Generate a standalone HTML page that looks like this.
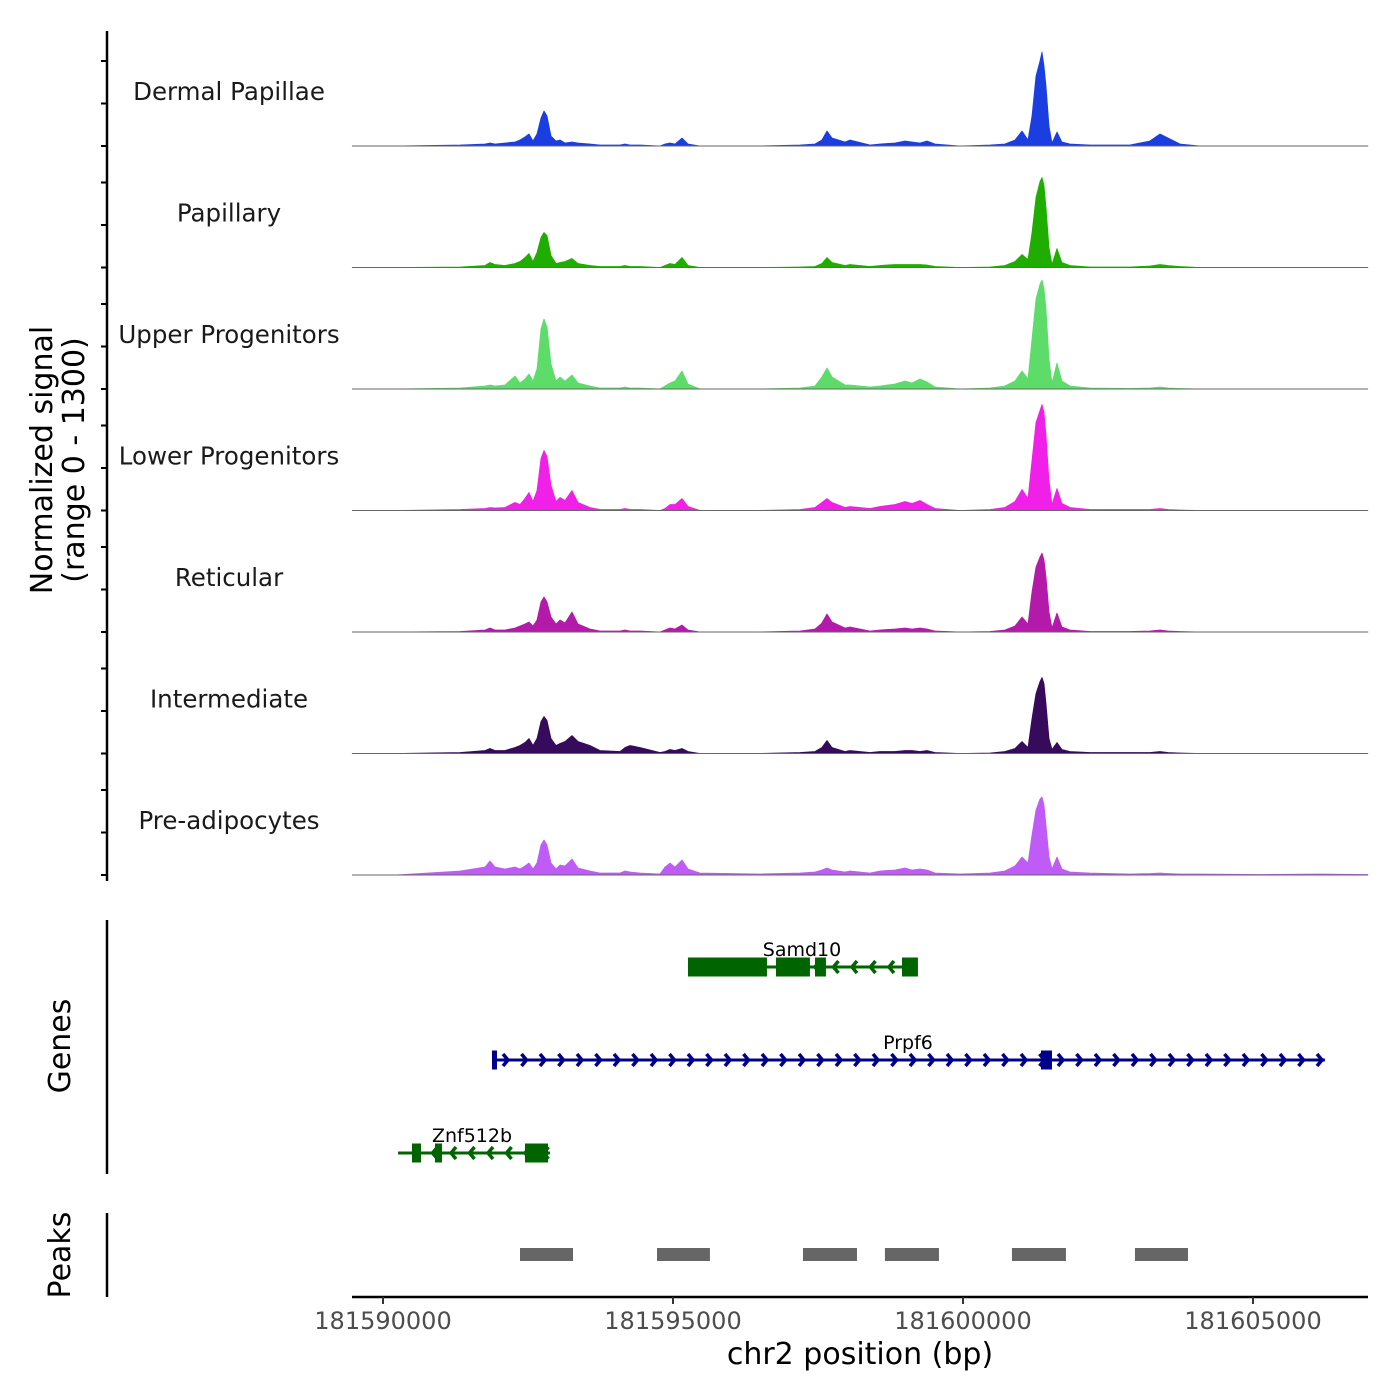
<!DOCTYPE html>
<html><head><meta charset="utf-8">
<style>
html,body{margin:0;padding:0;background:#fff;}
svg{display:block;font-family:"DejaVu Sans","Liberation Sans",sans-serif;}
</style></head>
<body>
<svg id="chart" width="1400" height="1400" viewBox="0 0 1400 1400" xmlns="http://www.w3.org/2000/svg">
<rect width="1400" height="1400" fill="#fff"/>
<g id="tracks"></g>
<g id="genes"></g>
<g id="peaks"></g>
<g id="axes"></g>
<text transform="translate(52,460) rotate(-90)" text-anchor="middle" font-size="30" fill="#000">Normalized signal</text>
<text transform="translate(84,460) rotate(-90)" text-anchor="middle" font-size="30" fill="#000">(range 0 - 1300)</text>
<text transform="translate(70,1046) rotate(-90)" text-anchor="middle" font-size="30" fill="#000">Genes</text>
<text transform="translate(70,1255) rotate(-90)" text-anchor="middle" font-size="30" fill="#000">Peaks</text>
<text x="860" y="1364" text-anchor="middle" font-size="30" fill="#000">chr2 position (bp)</text>
</svg>
<script>
const positions=[181589470,181590210,181591330,181591760,181591845,181591931,181592103,181592276,181592362,181592448,181592517,181592586,181592655,181592724,181592776,181592827,181592896,181592983,181593051,181593138,181593258,181593362,181593569,181593741,181594086,181594172,181594258,181594431,181594776,181594862,181594948,181595034,181595155,181595258,181595465,181596499,181597189,181597448,181597568,181597655,181597741,181597965,181598051,181598396,181598568,181598827,181599000,181599121,181599259,181599379,181599517,181599948,181600465,181600723,181600896,181601017,181601120,181601189,181601258,181601327,181601362,181601396,181601431,181601482,181601534,181601620,181601706,181601844,181602189,181602878,181603223,181603396,181603534,181603741,181604085,181605120,181606154,181606981];
const trackNames=["Dermal Papillae","Papillary","Upper Progenitors","Lower Progenitors","Reticular","Intermediate","Pre-adipocytes"];
const trackColors=["#1a3ee0","#1fae00","#5ddc6a","#f020e8","#b41aaa","#370b5b","#bf5cf5"];
const dermalPapillae=[0,0,10,20,30,20,30,40,60,90,120,50,120,280,350,300,100,50,60,30,40,30,20,10,10,20,10,10,0,20,30,20,80,20,0,0,10,20,60,150,80,40,60,10,20,30,50,40,30,50,20,0,10,20,60,150,60,300,700,850,940,800,600,200,30,140,40,20,10,10,50,120,80,20,0,0,0,0];
const papillary=[0,0,5,20,50,30,20,40,60,100,140,60,150,300,350,320,120,40,50,60,90,40,20,10,10,20,10,10,0,20,40,30,100,20,0,0,5,10,40,100,50,20,30,10,20,30,30,30,30,25,10,0,5,20,60,130,80,350,700,860,900,820,600,200,30,190,50,20,5,5,15,30,20,10,0,0,0,0];
const upperProgenitors=[0,0,10,30,40,30,40,130,60,100,150,80,200,600,700,620,250,80,120,80,140,60,30,10,10,20,10,10,0,30,60,80,180,50,0,0,10,30,120,210,120,40,40,20,30,50,80,60,100,70,20,0,10,30,80,180,100,500,900,1050,1090,1000,800,300,60,260,80,30,10,5,10,20,10,5,0,0,0,0];
const lowerProgenitors=[0,0,10,20,30,25,30,80,60,120,180,90,200,520,600,540,250,90,130,100,200,80,30,10,10,20,10,10,0,20,60,60,120,40,0,0,10,30,80,120,80,30,40,20,40,60,90,70,100,60,20,0,10,30,90,210,120,500,880,1000,1060,980,750,300,60,220,70,30,10,10,10,20,10,5,0,0,0,0];
const reticular=[0,0,5,20,40,20,20,40,60,80,100,60,120,300,350,300,150,80,120,90,200,80,30,10,10,20,10,10,0,20,40,30,70,20,0,0,10,30,90,180,100,40,50,10,20,30,40,30,40,30,10,0,5,20,60,150,80,400,650,750,790,720,550,200,40,190,50,20,5,5,10,20,10,5,0,0,0,0];
const intermediate=[0,0,10,30,50,30,30,60,80,110,150,80,150,320,370,330,150,80,100,120,180,120,80,30,20,60,80,60,10,20,40,30,50,20,0,0,10,20,60,130,60,20,30,10,20,20,30,30,20,30,10,0,5,20,50,120,60,350,600,720,760,700,500,150,40,110,40,20,10,10,10,20,10,5,0,0,0,0];
const preAdipocytes=[0,0,40,80,140,80,60,80,60,90,120,60,120,300,350,300,120,60,100,90,160,70,40,20,20,40,30,20,10,80,120,80,150,60,20,10,20,30,50,70,50,30,40,20,40,50,70,50,60,50,20,10,20,40,90,180,120,400,650,760,780,700,500,180,60,180,60,30,20,10,15,20,15,10,10,5,10,5];
const xTicks=[181590000,181595000,181600000,181605000];
const geneNames=["Samd10","Prpf6","Znf512b"];
const geneStarts=[181595258,181591879,181590259];
const geneEnds=[181599223,181606240,181592879];
const geneStrands=[-1,1,-1];
const geneColors=["#006400","#00008b","#006400"];
const geneExons=[[[181595258,181596620],[181596775,181597361],[181597448,181597637],[181598948,181599223]],[[181591879,181591965],[181601344,181601534]],[[181590500,181590655],[181590896,181591017],[181592448,181592845]]];
const peakStarts=[181592362,181594724,181597241,181598654,181600844,181602965];
const peakEnds=[181593276,181595637,181598172,181599585,181601775,181603879];

const NS="http://www.w3.org/2000/svg";
function mk(tag,attrs,parent){const e=document.createElementNS(NS,tag);for(const k in attrs)e.setAttribute(k,attrs[k]);parent.appendChild(e);return e;}
const X0=352,X1=1368;
function xs(bp){return 383+(bp-181590000)*(870/15000);}
const yMax=1300, trackScale=130;
function ys(v,base){return base - v/yMax*trackScale;}
const series=[dermalPapillae,papillary,upperProgenitors,lowerProgenitors,reticular,intermediate,preAdipocytes];
const tracksG=document.getElementById('tracks');
const axesG=document.getElementById('axes');
series.forEach((vals,i)=>{
  const base=146+i*121.5;
  let d="M"+xs(positions[0])+","+base;
  vals.forEach((v,j)=>{d+=" L"+xs(positions[j]).toFixed(1)+","+ys(v,base).toFixed(1);});
  d+=" L"+xs(positions[positions.length-1])+","+base+" Z";
  const p=mk('path',{d:d,fill:trackColors[i],stroke:trackColors[i],'stroke-width':0.8,'stroke-linejoin':'round'},tracksG);
  
  
  const bl=mk('line',{x1:X0,x2:X1,y1:base,y2:base,stroke:'#666','stroke-width':1},tracksG);
  
  
  const t=mk('text',{x:229,y:base-46,'text-anchor':'middle','font-size':24.5,fill:'#1a1a1a'},tracksG);
  t.textContent=trackNames[i];
  
  
  [0,42.5,85].forEach(o=>{
    const tk=mk('line',{x1:101,x2:107,y1:base-o,y2:base-o,stroke:'#000','stroke-width':2},axesG);
    
    
  });
});
const a1=mk('line',{x1:107,x2:107,y1:31,y2:881,stroke:'#000','stroke-width':2.5},axesG);


const a2=mk('line',{x1:107,x2:107,y1:920,y2:1174,stroke:'#000','stroke-width':2.5},axesG);


const a3=mk('line',{x1:107,x2:107,y1:1213,y2:1297,stroke:'#000','stroke-width':2.5},axesG);


const xa=mk('line',{x1:X0,x2:X1,y1:1297,y2:1297,stroke:'#000','stroke-width':2.5},axesG);


xTicks.forEach(b=>{
  const tk=mk('line',{x1:xs(b),x2:xs(b),y1:1297,y2:1304,stroke:'#333','stroke-width':2},axesG);
  
  
  const tl=mk('text',{x:xs(b),y:1329,'text-anchor':'middle','font-size':24,fill:'#4d4d4d'},axesG);
  tl.textContent=String(b);
  
  
});
const genesG=document.getElementById('genes');
const geneY=[967,1060,1153];
geneNames.forEach((n,i)=>{
  const y=geneY[i],c=geneColors[i];
  const g=mk('g',{},genesG);
  
  
  const x1=xs(geneStarts[i]),x2=xs(geneEnds[i]);
  mk('line',{x1:x1,x2:x2,y1:y,y2:y,stroke:c,'stroke-width':3},g);
  for(let ax=x1+16;ax<x2-2;ax+=18.5){
    const s=geneStrands[i];
    mk('polyline',{points:(ax-5*s)+","+(y-6)+" "+ax+","+y+" "+(ax-5*s)+","+(y+6),fill:'none',stroke:c,'stroke-width':3.5},g);
  }
  geneExons[i].forEach(e=>{
    const ex=mk('rect',{x:xs(e[0]),y:y-9.5,width:Math.max(5,xs(e[1])-xs(e[0])),height:19,fill:c},g);
    
    
  });
  const lx=[802,908,472][i];
  const lt=mk('text',{x:lx,y:y-11,'text-anchor':'middle','font-size':19,fill:'#000'},g);
  lt.textContent=n;
  
  
});
const peaksG=document.getElementById('peaks');
peakStarts.forEach((s,i)=>{
  const r=mk('rect',{x:xs(s),y:1248,width:xs(peakEnds[i])-xs(s),height:13,fill:'#666'},peaksG);
  
  
});
</script>
</body></html>
